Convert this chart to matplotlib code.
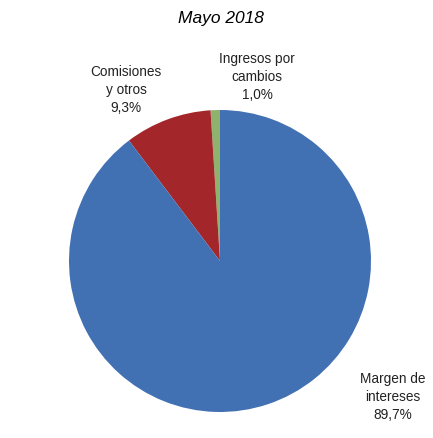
import matplotlib.pyplot as plt
from matplotlib import font_manager

labels = ["Ingresos por\ncambios", "Comisiones\ny otros", "Margen de\nintereses"]
values = [1.0, 9.3, 89.7]
value_labels = ["1,0%", "9,3%", "89,7%"]
colors = ["#8fb36c", "#a3272a", "#4170b3"]
title = "Mayo 2018"

names = {f.name for f in font_manager.fontManager.ttflist}
family = "Liberation Sans Narrow" if "Liberation Sans Narrow" in names else "Liberation Sans"
plt.rcParams["font.family"] = [family, "DejaVu Sans"]

W, H = 433, 439
fig = plt.figure(figsize=(W / 100, H / 100), dpi=100)
fig.patch.set_facecolor("white")

# pie centred at about (220, 262) px, radius ~151 px
ax = fig.add_axes([(220 - 151) / W, (H - 413) / H, 302 / W, 302 / H])
ax.pie(values, colors=colors, startangle=90, counterclock=True,
       wedgeprops=dict(linewidth=0))
ax.set_xlim(-1, 1)
ax.set_ylim(-1, 1)
ax.set_aspect("equal")
ax.axis("off")

fig.text(221 / W, 1 - 19 / H, title, ha="center", va="center",
         fontsize=12.5, style="italic")

# label positions in pixels (x centre, y centre)
pos = [(257, 77), (126, 90), (393, 397)]
for (x, y), lab, v in zip(pos, labels, value_labels):
    fig.text(x / W, 1 - y / H, lab + "\n" + v, ha="center", va="center",
             fontsize=9.8, linespacing=1.4, color="#222222")

fig.savefig("out.png", dpi=100)
